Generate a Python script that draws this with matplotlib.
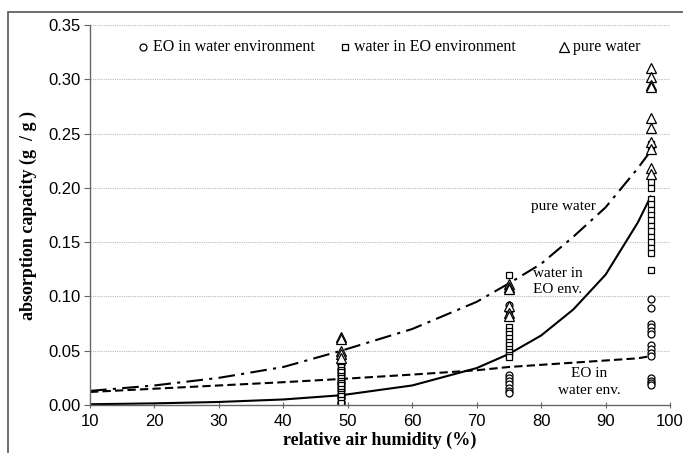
import matplotlib
matplotlib.use("Agg")
import matplotlib.pyplot as plt
from matplotlib.patches import Rectangle

# ---- data ----
# fitted curves (x = relative air humidity %, y = absorption capacity g/g)
curve_x = [10, 20, 30, 40, 49, 60, 70, 75, 80, 85, 90, 95, 97]
pure_water_curve = [0.013, 0.018, 0.025, 0.035, 0.050, 0.070, 0.095, 0.112, 0.130, 0.155, 0.182, 0.218, 0.234]
water_in_eo_curve = [0.0007, 0.0015, 0.0028, 0.0051, 0.0090, 0.018, 0.034, 0.047, 0.064, 0.088, 0.120, 0.168, 0.192]
eo_in_water_curve = [0.012, 0.015, 0.018, 0.021, 0.024, 0.028, 0.032, 0.035, 0.037, 0.039, 0.041, 0.043, 0.045]

# measured points
eo_x = [49]*15 + [75]*9 + [97]*14
eo_y = [0.045, 0.038, 0.033, 0.030, 0.028, 0.024, 0.021, 0.019, 0.017, 0.014, 0.010, 0.008,
        0.006, 0.003, 0.001,
        0.092, 0.087, 0.028, 0.025, 0.022, 0.019, 0.016, 0.013, 0.011,
        0.098, 0.089, 0.075, 0.072, 0.068, 0.065, 0.055, 0.052, 0.048, 0.045,
        0.025, 0.022, 0.020, 0.018]
wat_x = [49]*17 + [75]*11 + [97]*16
wat_y = [0.043, 0.040, 0.038, 0.035, 0.032, 0.030, 0.027, 0.025, 0.022, 0.020, 0.018, 0.015,
         0.012, 0.010, 0.008, 0.005, 0.002,
         0.120, 0.072, 0.068, 0.065, 0.062, 0.058, 0.055, 0.052, 0.049, 0.046, 0.044,
         0.240, 0.237, 0.205, 0.200, 0.190, 0.185, 0.180, 0.175, 0.170, 0.165, 0.160,
         0.155, 0.150, 0.145, 0.140, 0.124]
pure_x = [49]*5 + [75]*6 + [97]*10
pure_y = [0.063, 0.061, 0.050, 0.047, 0.043,
          0.111, 0.109, 0.107, 0.091, 0.085, 0.082,
          0.310, 0.302, 0.295, 0.293, 0.264, 0.255, 0.242, 0.236, 0.218, 0.213]

legend_labels = ["EO in water environment", "water in EO environment", "pure water"]
x_ticks = [10, 20, 30, 40, 50, 60, 70, 80, 90, 100]
y_ticks = [0.00, 0.05, 0.10, 0.15, 0.20, 0.25, 0.30, 0.35]

# ---- figure ----
W, H = 683, 453
fig = plt.figure(figsize=(W/100, H/100), dpi=100)
ax = fig.add_axes([90/W, 1-405/H, 580/W, 380/H])

# outer frame
fig.patches.append(Rectangle((8/W, -0.1), 1.2, (1-12/H)+0.1, transform=fig.transFigure,
                             fill=False, edgecolor="#555555", linewidth=1.2))

ax.set_xlim(10, 100)
ax.set_ylim(0, 0.35)
for y in y_ticks[1:]:
    ax.axhline(y, color="#bbbbbb", linestyle=(0, (1, 1)), linewidth=0.8, zorder=0)

ax.plot(curve_x, pure_water_curve, color="black", linestyle=(0, (8, 3, 1.5, 3)), linewidth=1.5)
ax.plot(curve_x, water_in_eo_curve, color="black", linestyle="-", linewidth=1.5)
ax.plot(curve_x, eo_in_water_curve, color="black", linestyle=(0, (4, 2)), linewidth=1.5)

ax.plot(eo_x, eo_y, linestyle="none", marker="o", markersize=5, markerfacecolor="white",
        markeredgecolor="black", markeredgewidth=0.9)
ax.plot(wat_x, wat_y, linestyle="none", marker="s", markersize=5, markerfacecolor="white",
        markeredgecolor="black", markeredgewidth=0.9)
ax.plot(pure_x, pure_y, linestyle="none", marker="^", markersize=6.5, markerfacecolor="white",
        markeredgecolor="black", markeredgewidth=0.9)

# legend drawn as text row
serif = "Liberation Serif"
lx = [18.3, 49.5, 83.5]
markers = ["o", "s", "^"]
for x0, m, lab in zip(lx, markers, legend_labels):
    ax.plot([x0], [0.3295], marker=m, markersize=5 if m != "^" else 6.5, markerfacecolor="white",
            markeredgecolor="black", markeredgewidth=0.9, linestyle="none", clip_on=False)
    ax.text(x0 + 1.5, 0.3295, lab, family=serif, fontsize=11.5, va="center", ha="left")

ax.text(78.5, 0.183, "pure water", family=serif, fontsize=11, va="center", ha="left")
ax.text(78.8, 0.114, "water in\nEO env.", family=serif, fontsize=11, va="center", ha="left",
        linespacing=1.3)
ax.text(87.5, 0.021, "EO in\nwater env.", family=serif, fontsize=11, va="center", ha="center",
        linespacing=1.35)

ax.set_xticks(x_ticks)
ax.set_yticks(y_ticks)
ax.set_yticklabels([f"{v:.2f}" for v in y_ticks])
for s in ["top", "right"]:
    ax.spines[s].set_visible(False)
for s in ["left", "bottom"]:
    ax.spines[s].set_color("#666666")
    ax.spines[s].set_linewidth(1.0)
ax.tick_params(axis="x", direction="inout", length=5, color="#666666", labelsize=12, pad=4)
ax.tick_params(axis="y", direction="out", length=4, color="#666666", labelsize=12, pad=3)
for lab in ax.get_xticklabels() + ax.get_yticklabels():
    lab.set_family("Liberation Sans")

ax.set_xlabel("relative air humidity (%)", family=serif, fontweight="bold", fontsize=13, labelpad=2)
ax.set_ylabel("absorption capacity (g  / g )", family=serif, fontweight="bold", fontsize=13, labelpad=8)

fig.savefig("out.png", dpi=100)
